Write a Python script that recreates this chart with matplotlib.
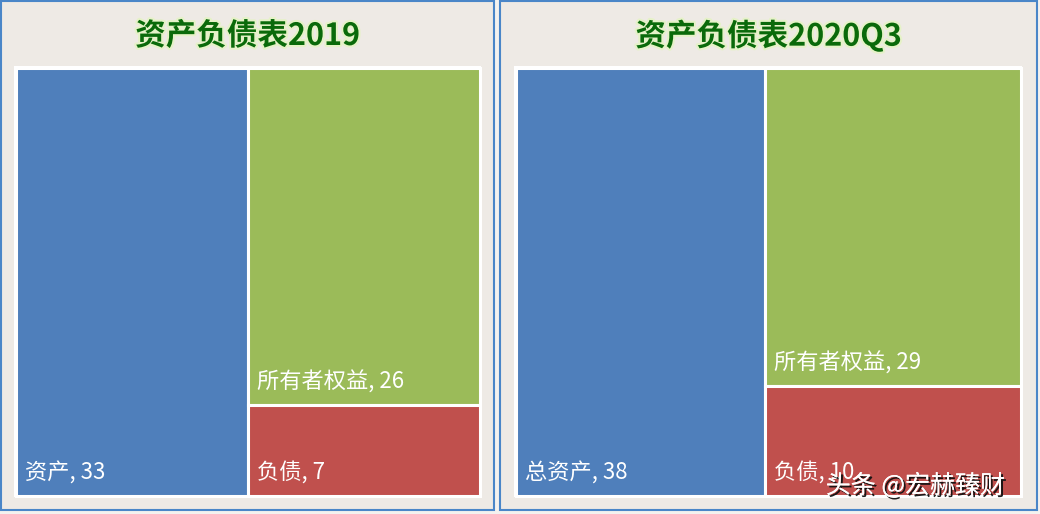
import matplotlib
matplotlib.use("Agg")
import matplotlib.pyplot as plt
import matplotlib.patheffects as pe
from matplotlib.patches import Rectangle

plt.rcParams['font.family'] = ['Noto Sans CJK SC', 'DejaVu Sans']

# 数据
titles = ['资产负债表2019', '资产负债表2020Q3']
asset_names = ['资产', '总资产']
assets = [33, 38]
equity = [26, 29]
debts = [7, 10]

W, H = 1040, 514
blue, green, red = '#4F7FBB', '#9BBB59', '#C0504D'

fig = plt.figure(figsize=(W / 100, H / 100), dpi=100, facecolor='#F4F2EF')
bg = fig.add_axes([0, 0, 1, 1])
bg.set_xlim(0, W)
bg.set_ylim(H, 0)
bg.axis('off')

# 面板位置 (像素): 外框, 白框
panels = [(1, 494), (500, 1037)]
frames = [(14, 481), (514, 1022)]
top, bottom = 66, 497

for i, (px0, px1) in enumerate(panels):
    bg.add_patch(Rectangle((px0, 1), px1 - px0, 509, facecolor='#EEEAE5',
                           edgecolor='#4A86C8', lw=1.5))
    fx0, fx1 = frames[i]
    bg.add_patch(Rectangle((fx0, top), fx1 - fx0, bottom - top,
                           facecolor='white', edgecolor='none'))
    bg.text((px0 + px1) / 2, 36, titles[i], ha='center', va='center',
            fontsize=22, fontweight='bold', color='#0A6A0A',
            path_effects=[pe.withStroke(linewidth=3, foreground='#E6F2C8')])

    # treemap
    ax = fig.add_axes([(fx0 + 1.5) / W, 1 - (bottom - 1.5) / H,
                       (fx1 - fx0 - 3) / W, (bottom - top - 3) / H])
    total = assets[i] + equity[i] + debts[i]
    right = equity[i] + debts[i]
    ax.set_xlim(0, total)
    ax.set_ylim(0, 1)
    ax.axis('off')
    split = debts[i] / right
    rects = [
        (0, 0, assets[i], 1, blue, f'{asset_names[i]}, {assets[i]}'),
        (assets[i], split, right, 1 - split, green, f'所有者权益, {equity[i]}'),
        (assets[i], 0, right, split, red, f'负债, {debts[i]}'),
    ]
    for x, y, w, h, c, lab in rects:
        ax.add_patch(Rectangle((x, y), w, h, facecolor=c, edgecolor='white',
                               lw=2.2, clip_on=False))
        ax.annotate(lab, (x, y), xytext=(7, 8), textcoords='offset points',
                    ha='left', va='bottom', fontsize=16, color='white')

# 水印
fig.text(1005 / W, 1 - 486 / H, '头条 @宏赫臻财', ha='right', va='center',
         fontsize=18, color='white', zorder=10,
         path_effects=[pe.withSimplePatchShadow(offset=(1.5, -1.5),
                                               shadow_rgbFace='#111111', alpha=0.95),
                       pe.Normal()])

fig.savefig('out.png', dpi=100, facecolor=fig.get_facecolor())
